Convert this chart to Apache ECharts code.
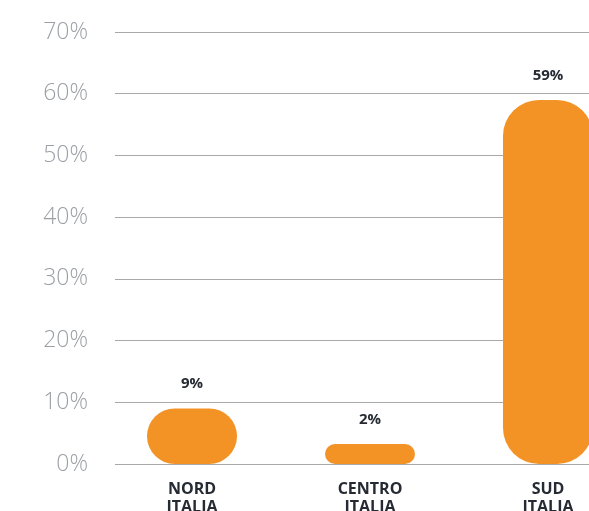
<!DOCTYPE html>
<html>
<head>
<meta charset="utf-8">
<script src="https://cdn.jsdelivr.net/npm/echarts@6/dist/echarts.min.js"></script>
<style>
  html, body { margin: 0; padding: 0; background: #fff; }
  #chart { width: 589px; height: 511px; }
</style>
</head>
<body>
<div id="chart"></div>
<script>
const categories = ['NORD\nITALIA', 'CENTRO\nITALIA', 'SUD\nITALIA'];
const values = [9, 2, 59];
const yTicks = [0, 70, 10]; // min, max, step

const orange = '#F39326';
const gridGray = '#a9a9a9';

const chart = echarts.init(document.getElementById('chart'), null, { renderer: 'canvas' });

const option = {
  animation: false,
  textStyle: { fontFamily: 'Open Sans' },
  grid: [
    // bars: wider than the window so the category bands land where the picture has them
    { left: 103, top: 32, width: 534, bottom: 47, containLabel: false, outerBoundsMode: 'none' },
    // gridlines + percentage labels
    { left: 115, top: 32, right: 0, bottom: 47, containLabel: false, outerBoundsMode: 'none' }
  ],
  xAxis: [
    {
      gridIndex: 0,
      type: 'category',
      data: categories,
      axisLine: { show: false },
      axisTick: { show: false },
      axisLabel: {
        margin: 16,
        fontSize: 16,
        lineHeight: 18,
        fontWeight: 'bold',
        color: '#262b33'
      }
    },
    { gridIndex: 1, type: 'value', min: 0, max: 1, show: false }
  ],
  yAxis: [
    { gridIndex: 0, type: 'value', min: yTicks[0], max: yTicks[1], interval: yTicks[2], show: false },
    {
      gridIndex: 1,
      type: 'value',
      min: yTicks[0],
      max: yTicks[1],
      interval: yTicks[2],
      axisLine: { show: false },
      axisTick: { show: false },
      splitLine: { lineStyle: { color: gridGray, width: 1 } },
      axisLabel: {
        margin: 27,
        fontSize: 23,
        fontWeight: 300,
        color: '#9b9fa4',
        padding: [0, 0, 8, 0],
        formatter: v => v + '%'
      }
    }
  ],
  series: [
    {
      type: 'bar',
      xAxisIndex: 0,
      yAxisIndex: 0,
      data: values,
      barWidth: 90,
      barMinHeight: 20,
      itemStyle: {
        color: orange,
        borderRadius: 36
      },
      label: {
        show: true,
        position: 'top',
        distance: 17,
        fontSize: 15,
        fontWeight: 'bold',
        color: '#262b33',
        formatter: p => p.value + '%'
      }
    }
  ]
};

chart.setOption(option);
</script>
</body>
</html>
